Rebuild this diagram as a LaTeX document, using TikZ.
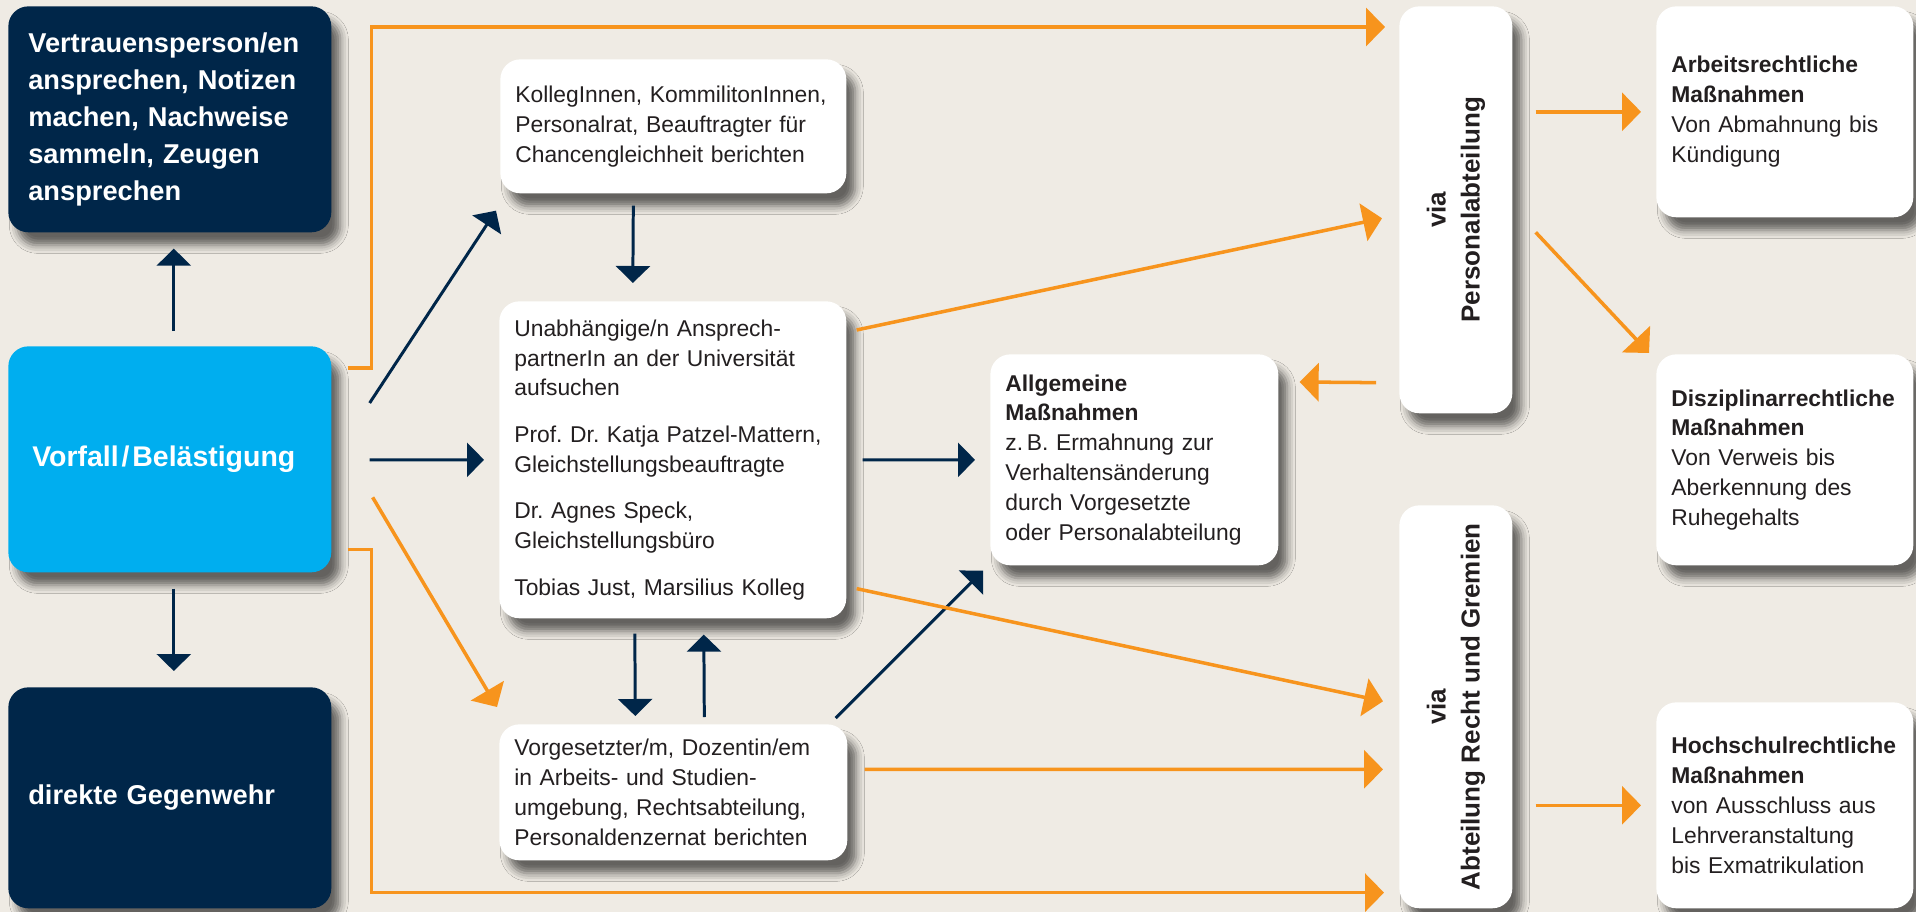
\documentclass[tikz,border=0pt]{standalone}
\usepackage{fontspec}
\setmainfont{Liberation Sans}
\usetikzlibrary{arrows.meta,calc,shadows.blur}
\frenchspacing

\definecolor{bgbeige}{RGB}{239,235,228}
\definecolor{uninavy}{RGB}{0,38,73}
\definecolor{uniblue}{RGB}{0,174,239}
\definecolor{uniorange}{RGB}{247,148,29}
\definecolor{textdark}{RGB}{35,31,32}

\tikzset{
  box/.style={anchor=north west, rounded corners=0.4cm, inner ysep=0pt, align=left,
    blur shadow={shadow xshift=0.18cm, shadow yshift=-0.26cm, shadow blur radius=0.16cm, shadow opacity=58}},
  darkbox/.style={box, fill=uninavy, text=white, inner xsep=0.4cm, text width=5.66cm,
    font=\fontsize{15.5pt}{21pt}\selectfont\bfseries},
  whitebox/.style={box, fill=white, text=textdark, inner xsep=0.3cm,
    font=\fontsize{13pt}{17pt}\selectfont},
  viabox/.style={box, fill=white, text=textdark, minimum width=2.26cm, inner xsep=0pt,
    font=\fontsize{14.8pt}{19.3pt}\selectfont\bfseries},
  navyarrow/.style={draw=uninavy, line width=1.7pt, -{Triangle[length=0.34cm,width=0.68cm]}},
  orangearrow/.style={draw=uniorange, line width=2pt, -{Triangle[length=0.38cm,width=0.76cm]}}
}

\begin{document}
\begin{tikzpicture}[x=0.02cm,y=-0.02cm]
\useasboundingbox (0,0) rectangle (1916,912);
\fill[bgbeige] (0,0) rectangle (1916,912);

\node[darkbox, minimum height=4.52cm] (vert) at (8,6)
  {Vertrauensperson/en\\ansprechen, Notizen\\machen, Nachweise\\sammeln, Zeugen\\ansprechen};
\node[darkbox, fill=uniblue, minimum height=4.52cm, inner xsep=0.48cm, text width=5.5cm,
  font=\fontsize{16.2pt}{21pt}\selectfont\bfseries] (vorfall) at (8,346)
  {Vorfall\kern0.1em/\kern0.1em Belästigung};
\node[darkbox, minimum height=4.42cm] (gegen) at (8,687) {direkte Gegenwehr};

\node[whitebox, text width=6.32cm, minimum height=2.68cm] (kolleg) at (500,59)
  {KollegInnen, KommilitonInnen,\\Personalrat, Beauftragter für\\Chancengleichheit berichten};
\node[whitebox, text width=6.34cm, minimum height=6.34cm] (unab) at (499,301)
  {Unabhängige/n Ansprech-\\partnerIn an der Universität\\aufsuchen\\[9.5pt]
   Prof. Dr. Katja Patzel-Mattern,\\Gleichstellungsbeauftragte\\[9.5pt]
   Dr. Agnes Speck,\\Gleichstellungsbüro\\[9.5pt]
   Tobias Just, Marsilius Kolleg};
\node[whitebox, text width=6.36cm, minimum height=2.72cm] (vorg) at (499,724)
  {Vorgesetzter/m, Dozentin/em\\in Arbeits- und Studien-\\umgebung, Rechtsabteilung,\\Personaldenzernat berichten};
\node[whitebox, text width=5.16cm, minimum height=4.22cm] (allg) at (990,354)
  {\textbf{Allgemeine}\\\textbf{Maßnahmen}\\z.\,B. Ermahnung zur\\Verhaltensänderung\\durch Vorgesetzte\\oder Personalabteilung};

\node[viabox, minimum height=8.14cm] (viap) at (1399,6)
  {\rotatebox{90}{\begin{tabular}{@{}c@{}}via\\Personalabteilung\end{tabular}}};
\node[viabox, minimum height=8.06cm] (viar) at (1399,505)
  {\rotatebox{90}{\begin{tabular}{@{}c@{}}via\\Abteilung Recht und Gremien\end{tabular}}};

\node[whitebox, text width=4.54cm, minimum height=4.22cm] (arb) at (1656,6)
  {\textbf{Arbeitsrechtliche}\\\textbf{Maßnahmen}\\Von Abmahnung bis\\Kündigung};
\node[whitebox, text width=4.54cm, minimum height=4.22cm] (disz) at (1656,354)
  {\textbf{Disziplinarrechtliche}\\\textbf{Maßnahmen}\\Von Verweis bis\\Aberkennung des\\Ruhegehalts};
\node[whitebox, text width=4.54cm, minimum height=4.12cm] (hoch) at (1656,702)
  {\textbf{Hochschulrechtliche}\\\textbf{Maßnahmen}\\von Ausschluss aus\\Lehrveranstaltung\\bis Exmatrikulation};

\draw[navyarrow] ($(vorfall.north)+(4,-15)$) -- ($(vert.south)+(4,16)$);
\draw[navyarrow] ($(vorfall.south)+(4,16)$) -- ($(gegen.north)+(4,-16)$);
\draw[navyarrow] ($(vorfall.north east)+(38,57)$) -- ($(kolleg.south west)+(-4,17)$);
\draw[navyarrow] ($(vorfall.east)+(38,0.5)$) -- ($(unab.west)+(-15,0)$);
\draw[navyarrow] ($(kolleg.south)+(-40,12)$) -- ($(unab.north)+(-40,-18)$);
\draw[navyarrow] ($(unab.east)+(16,0)$) -- ($(allg.west)+(-15,0)$);
\draw[navyarrow] ($(unab.south)+(-38,15)$) -- ($(vorg.north)+(-38,-8)$);
\draw[navyarrow] ($(vorg.north)+(31,-7)$) -- ($(unab.south)+(31,16)$);
\draw[navyarrow] ($(vorg.north east)+(-12,-6)$) -- ($(allg.south west)+(-7,5)$);

\draw[orangearrow] ($(vorfall.north east)+(16,22)$) -- ++(24,0) |- ($(viap.north west)+(-14,21)$);
\draw[orangearrow] ($(vorfall.south east)+(16,-23)$) -- ++(24,0) |- ($(viar.south west)+(-15,-16)$);
\draw[orangearrow] ($(vorfall.east)+(41,38)$) -- ($(vorg.north west)+(-2,-17)$);
\draw[orangearrow] ($(unab.north east)+(10,29)$) -- ($(viap.west)+(-17,8.5)$);
\draw[orangearrow] ($(unab.south east)+(10,-30)$) -- ($(viar.west)+(-16,-5.5)$);
\draw[orangearrow] ($(vorg.east)+(17,-23)$) -- ($(viar.west)+(-16,62.5)$);
\draw[orangearrow] ($(viap.south west)+(-23,-31)$) -- ($(allg.north east)+(21,28)$);
\draw[orangearrow] ($(viap.east |- arb.west)+(23,0)$) -- ($(arb.west)+(-15,0)$);
\draw[orangearrow] ($(viap.east)+(23,22.5)$) -- ($(disz.north west)+(-7,-1)$);
\draw[orangearrow] ($(viar.east |- hoch.west)+(23,0)$) -- ($(hoch.west)+(-15,0)$);
\end{tikzpicture}
\end{document}
